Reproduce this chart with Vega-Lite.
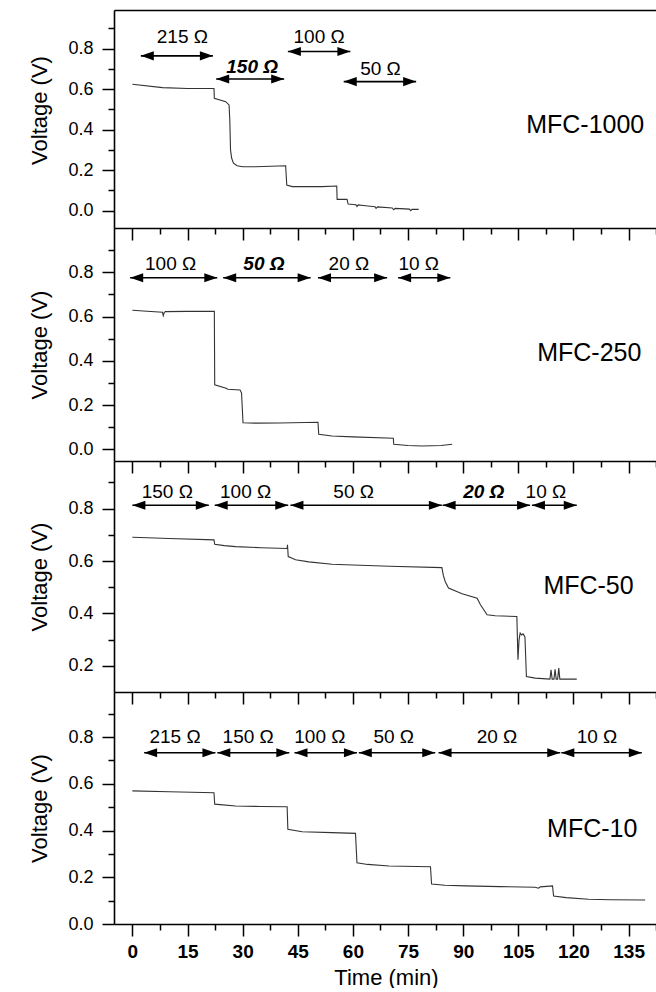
{
  "$schema": "https://vega.github.io/schema/vega-lite/v6.json",
  "padding": {"left": 28, "top": 10, "right": 0, "bottom": 0},
  "spacing": 0,
  "bounds": "flush",
  "config": {
    "view": {"stroke": null},
    "font": "Liberation Sans",
    "axis": {"domainColor": "black", "domainWidth": 1.6, "tickColor": "black", "tickWidth": 1.5, "labelFont": "Liberation Sans", "labelFontSize": 18, "labelColor": "black", "titleFont": "Liberation Sans", "titleFontSize": 22, "titleFontWeight": "normal", "titleColor": "black", "grid": false, "labelFlush": false},
    "axisX": {"labelFontWeight": "bold", "labelFontSize": 19, "labelPadding": 6, "titlePadding": 6},
    "axisY": {"labelPadding": 9, "titlePadding": 16},
    "text": {"font": "Liberation Sans", "color": "black"}
  },
  "datasets": {
    "curve": [
      {"p":1,"t":0,"v":0.624},{"p":1,"t":8.2,"v":0.607},{"p":1,"t":15,"v":0.603},{"p":1,"t":22.2,"v":0.603},{"p":1,"t":22.3,"v":0.555},{"p":1,"t":25.4,"v":0.538},{"p":1,"t":26.3,"v":0.522},{"p":1,"t":26.5,"v":0.45},{"p":1,"t":26.7,"v":0.30},{"p":1,"t":27.0,"v":0.26},{"p":1,"t":27.5,"v":0.235},{"p":1,"t":28.5,"v":0.222},{"p":1,"t":30,"v":0.217},{"p":1,"t":33.5,"v":0.217},{"p":1,"t":41.7,"v":0.222},{"p":1,"t":42.0,"v":0.127},{"p":1,"t":43.5,"v":0.119},{"p":1,"t":51.6,"v":0.119},{"p":1,"t":55.6,"v":0.122},{"p":1,"t":55.7,"v":0.056},{"p":1,"t":58.4,"v":0.056},{"p":1,"t":58.7,"v":0.033},{"p":1,"t":60.8,"v":0.03},{"p":1,"t":61.1,"v":0.021},{"p":1,"t":61.4,"v":0.029},{"p":1,"t":63.4,"v":0.025},{"p":1,"t":66,"v":0.02},{"p":1,"t":66.3,"v":0.012},{"p":1,"t":66.7,"v":0.019},{"p":1,"t":70.7,"v":0.014},{"p":1,"t":71.1,"v":0.005},{"p":1,"t":71.5,"v":0.012},{"p":1,"t":75.4,"v":0.008},{"p":1,"t":75.7,"v":0.0},{"p":1,"t":76.1,"v":0.007},{"p":1,"t":77.9,"v":0.007},
      {"p":2,"t":0,"v":0.628},{"p":2,"t":4,"v":0.624},{"p":2,"t":8.2,"v":0.619},{"p":2,"t":8.4,"v":0.604},{"p":2,"t":8.7,"v":0.619},{"p":2,"t":9,"v":0.622},{"p":2,"t":15,"v":0.623},{"p":2,"t":22.3,"v":0.624},{"p":2,"t":22.4,"v":0.291},{"p":2,"t":25.5,"v":0.276},{"p":2,"t":26,"v":0.271},{"p":2,"t":29.3,"v":0.268},{"p":2,"t":29.7,"v":0.254},{"p":2,"t":30.1,"v":0.12},{"p":2,"t":33.5,"v":0.118},{"p":2,"t":40,"v":0.119},{"p":2,"t":50.5,"v":0.122},{"p":2,"t":50.7,"v":0.068},{"p":2,"t":54.3,"v":0.06},{"p":2,"t":60,"v":0.056},{"p":2,"t":71,"v":0.05},{"p":2,"t":71.1,"v":0.023},{"p":2,"t":75,"v":0.017},{"p":2,"t":78.8,"v":0.015},{"p":2,"t":84,"v":0.017},{"p":2,"t":87,"v":0.023},
      {"p":3,"t":0,"v":0.691},{"p":3,"t":10,"v":0.686},{"p":3,"t":22.2,"v":0.681},{"p":3,"t":22.4,"v":0.664},{"p":3,"t":25,"v":0.659},{"p":3,"t":28.1,"v":0.655},{"p":3,"t":35,"v":0.651},{"p":3,"t":42.1,"v":0.648},{"p":3,"t":42.2,"v":0.662},{"p":3,"t":42.4,"v":0.617},{"p":3,"t":44.4,"v":0.605},{"p":3,"t":48,"v":0.597},{"p":3,"t":54.3,"v":0.588},{"p":3,"t":60,"v":0.585},{"p":3,"t":70,"v":0.58},{"p":3,"t":84.2,"v":0.575},{"p":3,"t":84.6,"v":0.545},{"p":3,"t":85.1,"v":0.522},{"p":3,"t":86.0,"v":0.497},{"p":3,"t":89.7,"v":0.475},{"p":3,"t":93.8,"v":0.458},{"p":3,"t":94.7,"v":0.433},{"p":3,"t":96.5,"v":0.395},{"p":3,"t":98.7,"v":0.391},{"p":3,"t":104.6,"v":0.388},{"p":3,"t":104.9,"v":0.223},{"p":3,"t":105.2,"v":0.30},{"p":3,"t":105.5,"v":0.325},{"p":3,"t":105.9,"v":0.318},{"p":3,"t":106.3,"v":0.322},{"p":3,"t":106.8,"v":0.31},{"p":3,"t":107.2,"v":0.159},{"p":3,"t":109.6,"v":0.153},{"p":3,"t":113.6,"v":0.149},{"p":3,"t":113.9,"v":0.185},{"p":3,"t":114.2,"v":0.149},{"p":3,"t":114.7,"v":0.149},{"p":3,"t":115.0,"v":0.187},{"p":3,"t":115.3,"v":0.149},{"p":3,"t":115.7,"v":0.149},{"p":3,"t":116.0,"v":0.191},{"p":3,"t":116.3,"v":0.149},{"p":3,"t":120.9,"v":0.149},
      {"p":4,"t":0,"v":0.570},{"p":4,"t":10,"v":0.566},{"p":4,"t":22.2,"v":0.562},{"p":4,"t":22.4,"v":0.513},{"p":4,"t":28.1,"v":0.505},{"p":4,"t":35,"v":0.503},{"p":4,"t":42.1,"v":0.502},{"p":4,"t":42.3,"v":0.405},{"p":4,"t":46.2,"v":0.395},{"p":4,"t":54.3,"v":0.391},{"p":4,"t":60.7,"v":0.388},{"p":4,"t":61.1,"v":0.262},{"p":4,"t":64,"v":0.255},{"p":4,"t":69.8,"v":0.248},{"p":4,"t":81.1,"v":0.245},{"p":4,"t":81.4,"v":0.171},{"p":4,"t":85,"v":0.166},{"p":4,"t":90.6,"v":0.163},{"p":4,"t":100,"v":0.160},{"p":4,"t":109.6,"v":0.157},{"p":4,"t":110.5,"v":0.153},{"p":4,"t":111,"v":0.159},{"p":4,"t":114.3,"v":0.163},{"p":4,"t":114.6,"v":0.12},{"p":4,"t":118,"v":0.113},{"p":4,"t":124.1,"v":0.106},{"p":4,"t":130,"v":0.104},{"p":4,"t":139.5,"v":0.103}
    ],
    "arrows": [
      {"p":1,"t":2.3,"t2":21.9,"v":0.764},{"p":1,"t":22.8,"t2":41.3,"v":0.65},{"p":1,"t":42.3,"t2":59.3,"v":0.785},{"p":1,"t":57.5,"t2":77.2,"v":0.637},
      {"p":2,"t":-0.6,"t2":23.1,"v":0.775},{"p":2,"t":24.7,"t2":48.5,"v":0.775},{"p":2,"t":50.5,"t2":69.3,"v":0.775},{"p":2,"t":72.3,"t2":86.5,"v":0.775},
      {"p":3,"t":0,"t2":20.8,"v":0.813},{"p":3,"t":22.4,"t2":42.4,"v":0.813},{"p":3,"t":43,"t2":84.2,"v":0.813},{"p":3,"t":84.4,"t2":108.2,"v":0.813},{"p":3,"t":108.7,"t2":120.9,"v":0.813},
      {"p":4,"t":3.2,"t2":22.6,"v":0.733},{"p":4,"t":23.1,"t2":42.7,"v":0.733},{"p":4,"t":44.1,"t2":61.1,"v":0.733},{"p":4,"t":61.6,"t2":82.4,"v":0.733},{"p":4,"t":83.3,"t2":116.4,"v":0.733},{"p":4,"t":116.7,"t2":138.6,"v":0.733}
    ],
    "labels": [
      {"p":1,"t":13.6,"v":0.856,"txt":"215 Ω","b":0},{"p":1,"t":32.6,"v":0.711,"txt":"150 Ω","b":1},{"p":1,"t":50.8,"v":0.857,"txt":"100 Ω","b":0},{"p":1,"t":67.5,"v":0.698,"txt":"50 Ω","b":0},
      {"p":2,"t":10.4,"v":0.838,"txt":"100 Ω","b":0},{"p":2,"t":35.8,"v":0.838,"txt":"50 Ω","b":1},{"p":2,"t":58.9,"v":0.838,"txt":"20 Ω","b":0},{"p":2,"t":77.9,"v":0.838,"txt":"10 Ω","b":0},
      {"p":3,"t":9.5,"v":0.863,"txt":"150 Ω","b":0},{"p":3,"t":30.8,"v":0.863,"txt":"100 Ω","b":0},{"p":3,"t":60.2,"v":0.863,"txt":"50 Ω","b":0},{"p":3,"t":95.6,"v":0.863,"txt":"20 Ω","b":1},{"p":3,"t":112.5,"v":0.863,"txt":"10 Ω","b":0},
      {"p":4,"t":11.6,"v":0.801,"txt":"215 Ω","b":0},{"p":4,"t":31.5,"v":0.801,"txt":"150 Ω","b":0},{"p":4,"t":51,"v":0.801,"txt":"100 Ω","b":0},{"p":4,"t":71.1,"v":0.801,"txt":"50 Ω","b":0},{"p":4,"t":99.2,"v":0.801,"txt":"20 Ω","b":0},{"p":4,"t":126.4,"v":0.801,"txt":"10 Ω","b":0}
    ],
    "names": [
      {"p":1,"t":123.2,"v":0.423,"txt":"MFC-1000"},{"p":2,"t":124.3,"v":0.435,"txt":"MFC-250"},{"p":3,"t":124.1,"v":0.503,"txt":"MFC-50"},{"p":4,"t":125.1,"v":0.405,"txt":"MFC-10"}
    ]
  },
  "vconcat": [
    {
      "width": 544, "height": 218,
      "layer": [
        {"data": {"name": "curve"}, "transform": [{"filter": "datum.p == 1"}], "mark": {"type": "line", "color": "#333", "strokeWidth": 1.1},
         "encoding": {
           "x": {"field": "t", "type": "quantitative", "scale": {"domain": [-5, 143], "nice": false, "zero": false}, "axis": {"orient": "bottom", "values": [0,15,30,45,60,75,90,105,120,135], "tickSize": 12, "labels": false, "title": null}},
           "y": {"field": "v", "type": "quantitative", "scale": {"domain": [-0.085, 0.99], "nice": false, "zero": false}, "axis": {"orient": "left", "values": [0,0.2,0.4,0.6,0.8], "tickSize": 12, "format": ".1f", "title": "Voltage (V)", "titleY": 100}}}},
        {"data": {"name": "curve"}, "transform": [{"filter": "datum.p == 1"}], "mark": {"type": "line", "opacity": 0},
         "encoding": {
           "x": {"field": "t", "type": "quantitative", "scale": {"domain": [-5, 143], "nice": false, "zero": false}, "axis": {"orient": "bottom", "values": [7.5,22.5,37.5,52.5,67.5,82.5,97.5,112.5,127.5,142.5], "tickSize": 6, "labels": false, "domain": false, "title": null}},
           "y": {"field": "v", "type": "quantitative", "scale": {"domain": [-0.085, 0.99], "nice": false, "zero": false}, "axis": {"orient": "left", "values": [0.1,0.3,0.5,0.7,0.9], "tickSize": 6, "labels": false, "domain": false, "title": null}}}},
        {"data": {"name": "curve"}, "transform": [{"filter": "datum.p == 1"}], "mark": {"type": "line", "opacity": 0},
         "encoding": {
           "x": {"field": "t", "type": "quantitative", "scale": {"domain": [-5, 143], "nice": false, "zero": false}, "axis": {"orient": "top", "ticks": false, "labels": false, "title": null}},
           "y": {"field": "v", "type": "quantitative", "scale": {"domain": [-0.085, 0.99], "nice": false, "zero": false}, "axis": null}}},
        {"data": {"name": "arrows"}, "transform": [{"filter": "datum.p == 1"}], "mark": {"type": "rule", "color": "black", "strokeWidth": 1.6},
         "encoding": {
           "x": {"field": "t", "type": "quantitative", "scale": {"domain": [-5, 143], "nice": false, "zero": false}, "axis": null},
           "x2": {"field": "t2"},
           "y": {"field": "v", "type": "quantitative", "scale": {"domain": [-0.085, 0.99], "nice": false, "zero": false}, "axis": null}}},
        {"data": {"name": "arrows"}, "transform": [{"filter": "datum.p == 1"}], "mark": {"type": "point", "shape": "M0,0 L2,-0.7 L2,0.7 Z", "filled": true, "color": "black", "size": 169, "opacity": 1},
         "encoding": {
           "x": {"field": "t", "type": "quantitative", "scale": {"domain": [-5, 143], "nice": false, "zero": false}, "axis": null},
           "y": {"field": "v", "type": "quantitative", "scale": {"domain": [-0.085, 0.99], "nice": false, "zero": false}, "axis": null}}},
        {"data": {"name": "arrows"}, "transform": [{"filter": "datum.p == 1"}], "mark": {"type": "point", "shape": "M0,0 L-2,-0.7 L-2,0.7 Z", "filled": true, "color": "black", "size": 169, "opacity": 1},
         "encoding": {
           "x": {"field": "t2", "type": "quantitative", "scale": {"domain": [-5, 143], "nice": false, "zero": false}, "axis": null},
           "y": {"field": "v", "type": "quantitative", "scale": {"domain": [-0.085, 0.99], "nice": false, "zero": false}, "axis": null}}},
        {"data": {"name": "labels"}, "transform": [{"filter": "datum.p == 1 && datum.b == 0"}], "mark": {"type": "text", "fontSize": 19, "align": "center", "baseline": "middle"},
         "encoding": {
           "x": {"field": "t", "type": "quantitative", "scale": {"domain": [-5, 143], "nice": false, "zero": false}, "axis": null},
           "y": {"field": "v", "type": "quantitative", "scale": {"domain": [-0.085, 0.99], "nice": false, "zero": false}, "axis": null},
           "text": {"field": "txt"}}},
        {"data": {"name": "labels"}, "transform": [{"filter": "datum.p == 1 && datum.b == 1"}], "mark": {"type": "text", "fontSize": 19, "fontWeight": "bold", "fontStyle": "italic", "align": "center", "baseline": "middle"},
         "encoding": {
           "x": {"field": "t", "type": "quantitative", "scale": {"domain": [-5, 143], "nice": false, "zero": false}, "axis": null},
           "y": {"field": "v", "type": "quantitative", "scale": {"domain": [-0.085, 0.99], "nice": false, "zero": false}, "axis": null},
           "text": {"field": "txt"}}},
        {"data": {"name": "names"}, "transform": [{"filter": "datum.p == 1"}], "mark": {"type": "text", "fontSize": 25, "align": "center", "baseline": "middle"},
         "encoding": {
           "x": {"field": "t", "type": "quantitative", "scale": {"domain": [-5, 143], "nice": false, "zero": false}, "axis": null},
           "y": {"field": "v", "type": "quantitative", "scale": {"domain": [-0.085, 0.99], "nice": false, "zero": false}, "axis": null},
           "text": {"field": "txt"}}}
      ],
      "resolve": {"axis": {"x": "independent", "y": "independent"}}
    },
    {
      "width": 544, "height": 233,
      "layer": [
        {"data": {"name": "curve"}, "transform": [{"filter": "datum.p == 2"}], "mark": {"type": "line", "color": "#333", "strokeWidth": 1.1},
         "encoding": {
           "x": {"field": "t", "type": "quantitative", "scale": {"domain": [-5, 143], "nice": false, "zero": false}, "axis": {"orient": "bottom", "values": [0,15,30,45,60,75,90,105,120,135], "tickSize": 12, "labels": false, "title": null}},
           "y": {"field": "v", "type": "quantitative", "scale": {"domain": [-0.053, 1.0], "nice": false, "zero": false}, "axis": {"orient": "left", "values": [0,0.2,0.4,0.6,0.8], "tickSize": 12, "format": ".1f", "title": "Voltage (V)"}}}},
        {"data": {"name": "curve"}, "transform": [{"filter": "datum.p == 2"}], "mark": {"type": "line", "opacity": 0},
         "encoding": {
           "x": {"field": "t", "type": "quantitative", "scale": {"domain": [-5, 143], "nice": false, "zero": false}, "axis": {"orient": "bottom", "values": [7.5,22.5,37.5,52.5,67.5,82.5,97.5,112.5,127.5,142.5], "tickSize": 6, "labels": false, "domain": false, "title": null}},
           "y": {"field": "v", "type": "quantitative", "scale": {"domain": [-0.053, 1.0], "nice": false, "zero": false}, "axis": {"orient": "left", "values": [0.1,0.3,0.5,0.7,0.9], "tickSize": 6, "labels": false, "domain": false, "title": null}}}},
        {"data": {"name": "arrows"}, "transform": [{"filter": "datum.p == 2"}], "mark": {"type": "rule", "color": "black", "strokeWidth": 1.6},
         "encoding": {
           "x": {"field": "t", "type": "quantitative", "scale": {"domain": [-5, 143], "nice": false, "zero": false}, "axis": null},
           "x2": {"field": "t2"},
           "y": {"field": "v", "type": "quantitative", "scale": {"domain": [-0.053, 1.0], "nice": false, "zero": false}, "axis": null}}},
        {"data": {"name": "arrows"}, "transform": [{"filter": "datum.p == 2"}], "mark": {"type": "point", "shape": "M0,0 L2,-0.7 L2,0.7 Z", "filled": true, "color": "black", "size": 169, "opacity": 1},
         "encoding": {
           "x": {"field": "t", "type": "quantitative", "scale": {"domain": [-5, 143], "nice": false, "zero": false}, "axis": null},
           "y": {"field": "v", "type": "quantitative", "scale": {"domain": [-0.053, 1.0], "nice": false, "zero": false}, "axis": null}}},
        {"data": {"name": "arrows"}, "transform": [{"filter": "datum.p == 2"}], "mark": {"type": "point", "shape": "M0,0 L-2,-0.7 L-2,0.7 Z", "filled": true, "color": "black", "size": 169, "opacity": 1},
         "encoding": {
           "x": {"field": "t2", "type": "quantitative", "scale": {"domain": [-5, 143], "nice": false, "zero": false}, "axis": null},
           "y": {"field": "v", "type": "quantitative", "scale": {"domain": [-0.053, 1.0], "nice": false, "zero": false}, "axis": null}}},
        {"data": {"name": "labels"}, "transform": [{"filter": "datum.p == 2 && datum.b == 0"}], "mark": {"type": "text", "fontSize": 19, "align": "center", "baseline": "middle"},
         "encoding": {
           "x": {"field": "t", "type": "quantitative", "scale": {"domain": [-5, 143], "nice": false, "zero": false}, "axis": null},
           "y": {"field": "v", "type": "quantitative", "scale": {"domain": [-0.053, 1.0], "nice": false, "zero": false}, "axis": null},
           "text": {"field": "txt"}}},
        {"data": {"name": "labels"}, "transform": [{"filter": "datum.p == 2 && datum.b == 1"}], "mark": {"type": "text", "fontSize": 19, "fontWeight": "bold", "fontStyle": "italic", "align": "center", "baseline": "middle"},
         "encoding": {
           "x": {"field": "t", "type": "quantitative", "scale": {"domain": [-5, 143], "nice": false, "zero": false}, "axis": null},
           "y": {"field": "v", "type": "quantitative", "scale": {"domain": [-0.053, 1.0], "nice": false, "zero": false}, "axis": null},
           "text": {"field": "txt"}}},
        {"data": {"name": "names"}, "transform": [{"filter": "datum.p == 2"}], "mark": {"type": "text", "fontSize": 25, "align": "center", "baseline": "middle"},
         "encoding": {
           "x": {"field": "t", "type": "quantitative", "scale": {"domain": [-5, 143], "nice": false, "zero": false}, "axis": null},
           "y": {"field": "v", "type": "quantitative", "scale": {"domain": [-0.053, 1.0], "nice": false, "zero": false}, "axis": null},
           "text": {"field": "txt"}}}
      ],
      "resolve": {"axis": {"x": "independent", "y": "independent"}}
    },
    {
      "width": 544, "height": 231,
      "layer": [
        {"data": {"name": "curve"}, "transform": [{"filter": "datum.p == 3"}], "mark": {"type": "line", "color": "#333", "strokeWidth": 1.1},
         "encoding": {
           "x": {"field": "t", "type": "quantitative", "scale": {"domain": [-5, 143], "nice": false, "zero": false}, "axis": {"orient": "bottom", "values": [0,15,30,45,60,75,90,105,120,135], "tickSize": 12, "labels": false, "title": null}},
           "y": {"field": "v", "type": "quantitative", "scale": {"domain": [0.1, 0.982], "nice": false, "zero": false}, "axis": {"orient": "left", "values": [0.2,0.4,0.6,0.8], "tickSize": 12, "format": ".1f", "title": "Voltage (V)"}}}},
        {"data": {"name": "curve"}, "transform": [{"filter": "datum.p == 3"}], "mark": {"type": "line", "opacity": 0},
         "encoding": {
           "x": {"field": "t", "type": "quantitative", "scale": {"domain": [-5, 143], "nice": false, "zero": false}, "axis": {"orient": "bottom", "values": [7.5,22.5,37.5,52.5,67.5,82.5,97.5,112.5,127.5,142.5], "tickSize": 6, "labels": false, "domain": false, "title": null}},
           "y": {"field": "v", "type": "quantitative", "scale": {"domain": [0.1, 0.982], "nice": false, "zero": false}, "axis": {"orient": "left", "values": [0.3,0.5,0.7,0.9], "tickSize": 6, "labels": false, "domain": false, "title": null}}}},
        {"data": {"name": "arrows"}, "transform": [{"filter": "datum.p == 3"}], "mark": {"type": "rule", "color": "black", "strokeWidth": 1.6},
         "encoding": {
           "x": {"field": "t", "type": "quantitative", "scale": {"domain": [-5, 143], "nice": false, "zero": false}, "axis": null},
           "x2": {"field": "t2"},
           "y": {"field": "v", "type": "quantitative", "scale": {"domain": [0.1, 0.982], "nice": false, "zero": false}, "axis": null}}},
        {"data": {"name": "arrows"}, "transform": [{"filter": "datum.p == 3"}], "mark": {"type": "point", "shape": "M0,0 L2,-0.7 L2,0.7 Z", "filled": true, "color": "black", "size": 169, "opacity": 1},
         "encoding": {
           "x": {"field": "t", "type": "quantitative", "scale": {"domain": [-5, 143], "nice": false, "zero": false}, "axis": null},
           "y": {"field": "v", "type": "quantitative", "scale": {"domain": [0.1, 0.982], "nice": false, "zero": false}, "axis": null}}},
        {"data": {"name": "arrows"}, "transform": [{"filter": "datum.p == 3"}], "mark": {"type": "point", "shape": "M0,0 L-2,-0.7 L-2,0.7 Z", "filled": true, "color": "black", "size": 169, "opacity": 1},
         "encoding": {
           "x": {"field": "t2", "type": "quantitative", "scale": {"domain": [-5, 143], "nice": false, "zero": false}, "axis": null},
           "y": {"field": "v", "type": "quantitative", "scale": {"domain": [0.1, 0.982], "nice": false, "zero": false}, "axis": null}}},
        {"data": {"name": "labels"}, "transform": [{"filter": "datum.p == 3 && datum.b == 0"}], "mark": {"type": "text", "fontSize": 19, "align": "center", "baseline": "middle"},
         "encoding": {
           "x": {"field": "t", "type": "quantitative", "scale": {"domain": [-5, 143], "nice": false, "zero": false}, "axis": null},
           "y": {"field": "v", "type": "quantitative", "scale": {"domain": [0.1, 0.982], "nice": false, "zero": false}, "axis": null},
           "text": {"field": "txt"}}},
        {"data": {"name": "labels"}, "transform": [{"filter": "datum.p == 3 && datum.b == 1"}], "mark": {"type": "text", "fontSize": 19, "fontWeight": "bold", "fontStyle": "italic", "align": "center", "baseline": "middle"},
         "encoding": {
           "x": {"field": "t", "type": "quantitative", "scale": {"domain": [-5, 143], "nice": false, "zero": false}, "axis": null},
           "y": {"field": "v", "type": "quantitative", "scale": {"domain": [0.1, 0.982], "nice": false, "zero": false}, "axis": null},
           "text": {"field": "txt"}}},
        {"data": {"name": "names"}, "transform": [{"filter": "datum.p == 3"}], "mark": {"type": "text", "fontSize": 25, "align": "center", "baseline": "middle"},
         "encoding": {
           "x": {"field": "t", "type": "quantitative", "scale": {"domain": [-5, 143], "nice": false, "zero": false}, "axis": null},
           "y": {"field": "v", "type": "quantitative", "scale": {"domain": [0.1, 0.982], "nice": false, "zero": false}, "axis": null},
           "text": {"field": "txt"}}}
      ],
      "resolve": {"axis": {"x": "independent", "y": "independent"}}
    },
    {
      "width": 544, "height": 232,
      "layer": [
        {"data": {"name": "curve"}, "transform": [{"filter": "datum.p == 4"}], "mark": {"type": "line", "color": "#333", "strokeWidth": 1.1},
         "encoding": {
           "x": {"field": "t", "type": "quantitative", "scale": {"domain": [-5, 143], "nice": false, "zero": false}, "axis": {"orient": "bottom", "values": [0,15,30,45,60,75,90,105,120,135], "tickSize": 12, "title": "Time (min)"}},
           "y": {"field": "v", "type": "quantitative", "scale": {"domain": [0, 0.993], "nice": false, "zero": false}, "axis": {"orient": "left", "values": [0,0.2,0.4,0.6,0.8], "tickSize": 12, "format": ".1f", "title": "Voltage (V)"}}}},
        {"data": {"name": "curve"}, "transform": [{"filter": "datum.p == 4"}], "mark": {"type": "line", "opacity": 0},
         "encoding": {
           "x": {"field": "t", "type": "quantitative", "scale": {"domain": [-5, 143], "nice": false, "zero": false}, "axis": {"orient": "bottom", "values": [7.5,22.5,37.5,52.5,67.5,82.5,97.5,112.5,127.5,142.5], "tickSize": 6, "labels": false, "domain": false, "title": null}},
           "y": {"field": "v", "type": "quantitative", "scale": {"domain": [0, 0.993], "nice": false, "zero": false}, "axis": {"orient": "left", "values": [0.1,0.3,0.5,0.7,0.9], "tickSize": 6, "labels": false, "domain": false, "title": null}}}},
        {"data": {"name": "arrows"}, "transform": [{"filter": "datum.p == 4"}], "mark": {"type": "rule", "color": "black", "strokeWidth": 1.6},
         "encoding": {
           "x": {"field": "t", "type": "quantitative", "scale": {"domain": [-5, 143], "nice": false, "zero": false}, "axis": null},
           "x2": {"field": "t2"},
           "y": {"field": "v", "type": "quantitative", "scale": {"domain": [0, 0.993], "nice": false, "zero": false}, "axis": null}}},
        {"data": {"name": "arrows"}, "transform": [{"filter": "datum.p == 4"}], "mark": {"type": "point", "shape": "M0,0 L2,-0.7 L2,0.7 Z", "filled": true, "color": "black", "size": 169, "opacity": 1},
         "encoding": {
           "x": {"field": "t", "type": "quantitative", "scale": {"domain": [-5, 143], "nice": false, "zero": false}, "axis": null},
           "y": {"field": "v", "type": "quantitative", "scale": {"domain": [0, 0.993], "nice": false, "zero": false}, "axis": null}}},
        {"data": {"name": "arrows"}, "transform": [{"filter": "datum.p == 4"}], "mark": {"type": "point", "shape": "M0,0 L-2,-0.7 L-2,0.7 Z", "filled": true, "color": "black", "size": 169, "opacity": 1},
         "encoding": {
           "x": {"field": "t2", "type": "quantitative", "scale": {"domain": [-5, 143], "nice": false, "zero": false}, "axis": null},
           "y": {"field": "v", "type": "quantitative", "scale": {"domain": [0, 0.993], "nice": false, "zero": false}, "axis": null}}},
        {"data": {"name": "labels"}, "transform": [{"filter": "datum.p == 4 && datum.b == 0"}], "mark": {"type": "text", "fontSize": 19, "align": "center", "baseline": "middle"},
         "encoding": {
           "x": {"field": "t", "type": "quantitative", "scale": {"domain": [-5, 143], "nice": false, "zero": false}, "axis": null},
           "y": {"field": "v", "type": "quantitative", "scale": {"domain": [0, 0.993], "nice": false, "zero": false}, "axis": null},
           "text": {"field": "txt"}}},
        {"data": {"name": "names"}, "transform": [{"filter": "datum.p == 4"}], "mark": {"type": "text", "fontSize": 25, "align": "center", "baseline": "middle"},
         "encoding": {
           "x": {"field": "t", "type": "quantitative", "scale": {"domain": [-5, 143], "nice": false, "zero": false}, "axis": null},
           "y": {"field": "v", "type": "quantitative", "scale": {"domain": [0, 0.993], "nice": false, "zero": false}, "axis": null},
           "text": {"field": "txt"}}}
      ],
      "resolve": {"axis": {"x": "independent", "y": "independent"}}
    }
  ]
}
